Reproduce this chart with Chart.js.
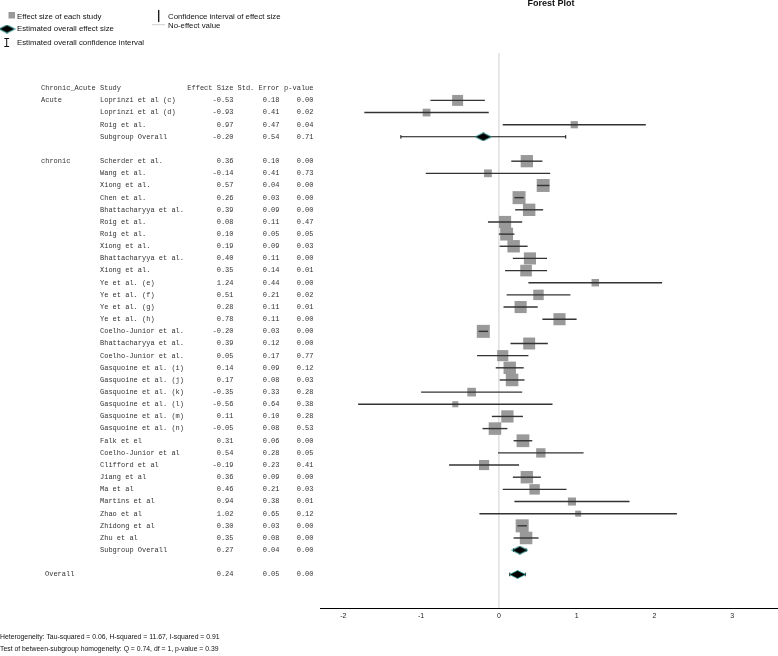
<!DOCTYPE html>
<html><head><meta charset="utf-8">
<script src="https://cdn.jsdelivr.net/npm/chart.js@4"></script>
<style>html,body{margin:0;padding:0;background:#fff;}canvas{display:block;}</style>
</head><body>
<canvas id="c" width="778" height="656"></canvas>
<script>
// ---------------- data ----------------
const groupNames = ['Acute', 'chronic'];
const studyNames = [
  'Loprinzi et al (c)', 'Loprinzi et al (d)', 'Roig et al.',
  'Scherder et al.', 'Wang et al.', 'Xiong et al.', 'Chen et al.', 'Bhattacharyya et al.',
  'Roig et al.', 'Roig et al.', 'Xiong et al.', 'Bhattacharyya et al.', 'Xiong et al.',
  'Ye et al. (e)', 'Ye et al. (f)', 'Ye et al. (g)', 'Ye et al. (h)', 'Coelho-Junior et al.',
  'Bhattacharyya et al.', 'Coelho-Junior et al.', 'Gasquoine et al. (i)', 'Gasquoine et al. (j)',
  'Gasquoine et al. (k)', 'Gasquoine et al. (l)', 'Gasquoine et al. (m)', 'Gasquoine et al. (n)',
  'Falk et el', 'Coelho-Junior et al', 'Clifford et al', 'Jiang et al', 'Ma et al',
  'Martins et al', 'Zhao et al', 'Zhidong et al', 'Zhu et al'
];
const studyGroup = [0,0,0, 1,1,1,1,1,1,1,1,1,1,1,1,1,1,1,1,1,1,1,1,1,1,1,1,1,1,1,1,1,1,1,1];
const effectSize = [-0.53, -0.93, 0.97,
  0.36, -0.14, 0.57, 0.26, 0.39, 0.08, 0.10, 0.19, 0.40, 0.35,
  1.24, 0.51, 0.28, 0.78, -0.20, 0.39, 0.05, 0.14, 0.17, -0.35, -0.56, 0.11, -0.05,
  0.31, 0.54, -0.19, 0.36, 0.46, 0.94, 1.02, 0.30, 0.35];
const stdError = [0.18, 0.41, 0.47,
  0.10, 0.41, 0.04, 0.03, 0.09, 0.11, 0.05, 0.09, 0.11, 0.14,
  0.44, 0.21, 0.11, 0.11, 0.03, 0.12, 0.17, 0.09, 0.08, 0.33, 0.64, 0.10, 0.08,
  0.06, 0.28, 0.23, 0.09, 0.21, 0.38, 0.65, 0.03, 0.08];
const pValue = [0.00, 0.02, 0.04,
  0.00, 0.73, 0.00, 0.00, 0.00, 0.47, 0.05, 0.03, 0.00, 0.01,
  0.00, 0.02, 0.01, 0.00, 0.00, 0.00, 0.77, 0.12, 0.03, 0.28, 0.38, 0.28, 0.53,
  0.00, 0.05, 0.41, 0.00, 0.03, 0.01, 0.12, 0.00, 0.00];
const ciLower = [-0.88, -1.73, 0.05,
  0.16, -0.94, 0.49, 0.20, 0.21, -0.14, 0.00, 0.01, 0.18, 0.08,
  0.38, 0.10, 0.06, 0.56, -0.26, 0.15, -0.28, -0.04, 0.01, -1.00, -1.81, -0.09, -0.21,
  0.19, -0.01, -0.64, 0.18, 0.05, 0.20, -0.25, 0.24, 0.19];
const ciUpper = [-0.18, -0.13, 1.89,
  0.56, 0.66, 0.65, 0.32, 0.57, 0.30, 0.20, 0.37, 0.62, 0.62,
  2.10, 0.92, 0.50, 1.00, -0.14, 0.63, 0.38, 0.32, 0.33, 0.30, 0.69, 0.31, 0.11,
  0.43, 1.09, 0.26, 0.54, 0.87, 1.68, 2.29, 0.36, 0.51];
const summaryNames = ['Subgroup Overall', 'Subgroup Overall', 'Overall'];
const summaryES = [-0.20, 0.27, 0.24];
const summarySE = [0.54, 0.04, 0.05];
const summaryP = [0.71, 0.00, 0.00];
const summaryLo = [-1.26, 0.19, 0.14];
const summaryHi = [0.86, 0.35, 0.34];
const xTicks = [-2, -1, 0, 1, 2, 3];
const noEffect = 0;
const tauSquared = 0.06;
const heterogeneityText = 'Heterogeneity: Tau-squared = 0.06, H-squared = 11.67, I-squared = 0.91';
const homogeneityText = 'Test of between-subgroup homogeneity: Q = 0.74, df = 1, p-value = 0.39';

// ---------------- layout of rows ----------------
const studyRow = [], summaryRow = [], groupRow = [];
let r = 1;
groupNames.forEach((g, gi) => {
  groupRow[gi] = r;
  studyNames.forEach((n, i) => { if (studyGroup[i] === gi) studyRow[i] = r++; });
  summaryRow[gi] = r++;
  r++;
});
summaryRow[2] = r;

const Y_MIN = -2.9, Y_MAX = 42.76, X_MIN = -2.3, X_MAX = 3.59;

const sqSide = stdError.map(se => 2.14 + 2.68 * Math.sqrt(1 / (se * se + tauSquared)));

// diamond marker
const dia = document.createElement('canvas');
dia.width = 17; dia.height = 9;
(function () {
  const c = dia.getContext('2d');
  c.beginPath();
  c.moveTo(0.5, 4.5); c.lineTo(8.5, 0.5); c.lineTo(16.5, 4.5); c.lineTo(8.5, 8.5); c.closePath();
  c.fillStyle = '#000'; c.fill();
  c.strokeStyle = '#2aa39c'; c.lineWidth = 0.8; c.stroke();
})();

const MONO = '"Liberation Mono", "DejaVu Sans Mono", monospace';
const SANS = '"Liberation Sans", Arial, sans-serif';

const textPlugin = {
  id: 'forestText',
  afterDraw(chart) {
    const ctx = chart.ctx;
    const y = chart.scales.y;
    ctx.save();
    // table
    ctx.font = '7px ' + MONO;
    ctx.fillStyle = '#333';
    ctx.textBaseline = 'middle';
    const colG = 41, colS = 100, colES = 233.5, colSE = 279.5, colP = 313.5;
    const put = (t, x, row, align) => { ctx.textAlign = align; ctx.fillText(t, x, y.getPixelForValue(row)); };
    put('Chronic_Acute', colG, 0, 'left');
    put('Study', colS, 0, 'left');
    put('Effect Size', colES, 0, 'right');
    put('Std. Error', colSE, 0, 'right');
    put('p-value', colP, 0, 'right');
    groupNames.forEach((g, gi) => put(g, colG, groupRow[gi], 'left'));
    studyNames.forEach((n, i) => {
      const row = studyRow[i];
      put(n, colS, row, 'left');
      put(effectSize[i].toFixed(2), colES, row, 'right');
      put(stdError[i].toFixed(2), colSE, row, 'right');
      put(pValue[i].toFixed(2), colP, row, 'right');
    });
    summaryNames.forEach((n, i) => {
      const row = summaryRow[i];
      put(n, i < 2 ? colS : 45, row, 'left');
      put(summaryES[i].toFixed(2), colES, row, 'right');
      put(summarySE[i].toFixed(2), colSE, row, 'right');
      put(summaryP[i].toFixed(2), colP, row, 'right');
    });
    // title
    ctx.fillStyle = '#111';
    ctx.font = 'bold 9px ' + SANS;
    ctx.textAlign = 'center';
    ctx.fillText('Forest Plot', 551, 4);
    // legend
    ctx.font = '7.8px ' + SANS;
    ctx.textAlign = 'left';
    ctx.fillText('Effect size of each study', 17, 16.5);
    ctx.fillText('Estimated overall effect size', 17, 29);
    ctx.fillText('Estimated overall confidence interval', 17, 43);
    ctx.fillText('Confidence interval of effect size', 168, 16.5);
    ctx.fillText('No-effect value', 168, 26);
    ctx.fillStyle = '#999';
    ctx.fillRect(8.5, 12, 6.5, 6.5);
    ctx.drawImage(dia, -1.5, 24.5, 17, 9);
    ctx.strokeStyle = '#111'; ctx.lineWidth = 1;
    ctx.beginPath();
    ctx.moveTo(6.7, 38.5); ctx.lineTo(6.7, 46.5);
    ctx.moveTo(4.3, 38.5); ctx.lineTo(9.1, 38.5);
    ctx.moveTo(4.3, 46.5); ctx.lineTo(9.1, 46.5);
    ctx.stroke();
    ctx.lineWidth = 1.3;
    ctx.beginPath(); ctx.moveTo(158.7, 10); ctx.lineTo(158.7, 22); ctx.stroke();
    ctx.strokeStyle = '#cfcfcf'; ctx.lineWidth = 1;
    ctx.beginPath(); ctx.moveTo(152, 24.7); ctx.lineTo(165, 24.7); ctx.stroke();
    // footer
    ctx.fillStyle = '#111';
    ctx.font = '6.85px ' + SANS;
    ctx.fillText(heterogeneityText, 0, 637);
    ctx.fillText(homogeneityText, 0, 649);
    ctx.restore();
  }
};

new Chart(document.getElementById('c'), {
  type: 'scatter',
  data: {
    datasets: [
      { // no-effect line
        type: 'line', order: 10,
        data: [{ x: noEffect, y: Y_MIN }, { x: noEffect, y: Y_MAX }],
        borderColor: '#e2e2e2', borderWidth: 1.6, pointRadius: 0, fill: false
      },
      { // study squares
        type: 'scatter', order: 5,
        data: effectSize.map((v, i) => ({ x: v, y: studyRow[i] })),
        pointStyle: 'rect',
        pointRadius: sqSide.map(s => s / Math.SQRT2),
        backgroundColor: '#999999', borderWidth: 0
      },
      { // study CIs
        type: 'bar', order: 2, indexAxis: 'y', grouped: false,
        data: ciLower.map((lo, i) => ({ x: [lo, ciUpper[i]], y: studyRow[i] })),
        backgroundColor: '#333333', borderWidth: 0, maxBarThickness: 1.4
      },
      { // summary CIs
        type: 'bar', order: 2, indexAxis: 'y', grouped: false,
        data: summaryLo.map((lo, i) => ({ x: [lo, summaryHi[i]], y: summaryRow[i] })),
        backgroundColor: '#111111', borderWidth: 0, maxBarThickness: 1
      },
      { // summary CI caps
        type: 'scatter', order: 1,
        data: summaryLo.map((lo, i) => ({ x: lo, y: summaryRow[i] }))
          .concat(summaryHi.map((hi, i) => ({ x: hi, y: summaryRow[i] }))),
        pointStyle: 'line', rotation: 90, pointRadius: 1.8,
        borderColor: '#111', borderWidth: 1
      },
      { // diamonds
        type: 'scatter', order: 0,
        data: summaryES.map((v, i) => ({ x: v, y: summaryRow[i] })),
        pointStyle: dia, pointRadius: 8
      }
    ]
  },
  options: {
    responsive: false,
    animation: false,
    devicePixelRatio: 1,
    layout: { autoPadding: false, padding: { left: 320, right: 0, top: 53, bottom: 0 } },
    plugins: { legend: { display: false }, tooltip: { enabled: false }, title: { display: false } },
    events: [],
    scales: {
      x: {
        type: 'linear', min: X_MIN, max: X_MAX, offset: false,
        grid: { display: false, drawTicks: false },
        border: { display: true, color: '#000', width: 1 },
        afterBuildTicks: s => { s.ticks = xTicks.map(v => ({ value: v })); },
        afterFit: s => { s.height = 48; },
        ticks: { font: { family: SANS, size: 7 }, color: '#222', padding: 4 }
      },
      y: {
        type: 'linear', min: Y_MIN, max: Y_MAX, reverse: true, display: false, offset: false,
        grid: { offset: false }
      }
    }
  },
  plugins: [textPlugin]
});
</script>
</body></html>
